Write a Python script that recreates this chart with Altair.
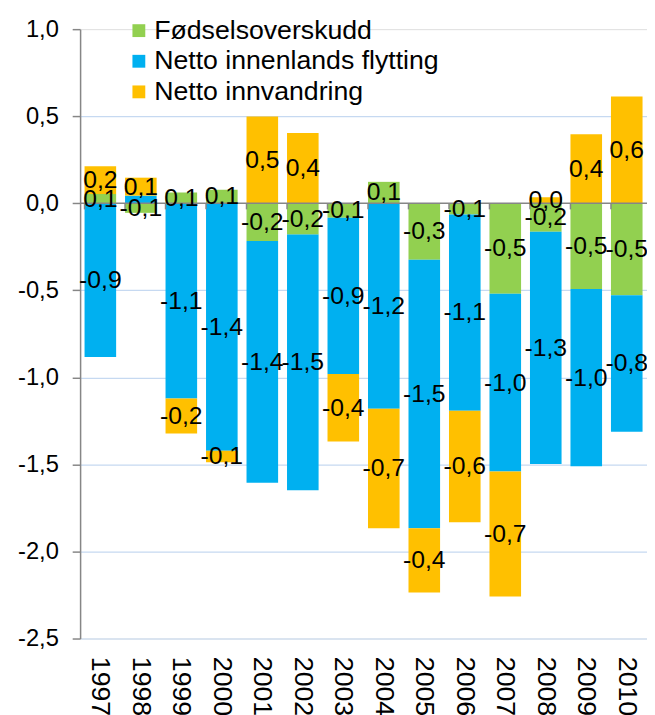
import altair as alt
import pandas as pd

years = [str(y) for y in range(1997, 2011)]
series = ["Fødselsoverskudd", "Netto innenlands flytting", "Netto innvandring"]
colors = ["#92D050", "#00B0F0", "#FFC000"]

births = [0.053, -0.055, 0.062, 0.078, -0.217, -0.180, -0.083, 0.123, -0.325, -0.064, -0.520, -0.164, -0.493, -0.529]
domestic = [-0.883, 0.044, -1.121, -1.422, -1.388, -1.469, -0.898, -1.180, -1.541, -1.127, -1.021, -1.333, -1.018, -0.783]
immigration = [0.160, 0.103, -0.202, -0.066, 0.499, 0.403, -0.388, -0.686, -0.369, -0.641, -0.717, 0.034, 0.397, 0.613]

# labels that are not shown in the original
hidden_labels = [("1998", "Netto innenlands flytting")]

y_ticks = [-2.5, -2.0, -1.5, -1.0, -0.5, 0.0, 0.5, 1.0]

rows = []
for i, yr in enumerate(years):
    for k, (s, vals) in enumerate(zip(series, [births, domestic, immigration])):
        rows.append({"year": yr, "series": s, "order": k, "value": vals[i],
                     "show": (yr, s) not in hidden_labels})
df = pd.DataFrame(rows)

FONT = "Liberation Sans"

x_scale = alt.Scale(paddingInner=0.22, paddingOuter=0.11)
x_axis = alt.Axis(title=None, domain=False, ticks=False, labelAngle=90, labelAlign="left",
                  labelBaseline="middle", labelPadding=18, labelFontSize=27, labelFont=FONT,
                  labelColor="black", grid=False)
y_scale = alt.Scale(domain=[-2.5, 1.0], nice=False, zero=False)
y_axis = alt.Axis(title=None, values=y_ticks, format=".1f", domainColor="#868686", domainWidth=1.5,
                  tickColor="#868686", tickSize=8, tickWidth=1.5, labelFontSize=24, labelFont=FONT,
                  labelColor="black", labelPadding=14,
                  gridColor={"condition": {"test": "datum.value == 1", "value": "transparent"},
                             "value": "#C6D9F1"},
                  gridWidth=1.2)

x_enc = alt.X("year:N", sort=years, scale=x_scale, axis=x_axis)

base = alt.Chart(df).transform_stack(
    stack="value", groupby=["year"], as_=["v0", "v1"], sort=[alt.SortField("order")]
).transform_calculate(mid="(datum.v0 + datum.v1) / 2")

bars = base.mark_bar().encode(
    x=x_enc,
    y=alt.Y("v0:Q", scale=y_scale, axis=y_axis),
    y2="v1:Q",
    color=alt.Color("series:N", scale=alt.Scale(domain=series, range=colors),
                    legend=alt.Legend(title=None, orient="none", legendX=46, legendY=-12,
                                      symbolType="square", symbolSize=169, symbolStrokeWidth=0,
                                      labelFontSize=27, labelFont=FONT, labelColor="black",
                                      labelOffset=2, rowPadding=3, padding=0, labelLimit=500)),
)

zero_df = pd.DataFrame({"z": [0.0]})
zero_line = alt.Chart(zero_df).mark_rule(color="#868686", strokeWidth=1.5).encode(
    y=alt.Y("z:Q", scale=y_scale, axis=y_axis)
)

tick_df = pd.DataFrame({"year": years})
zero_ticks = alt.Chart(tick_df).mark_rule(color="#868686", strokeWidth=1.5).encode(
    x=alt.X("year:N", sort=years, scale=x_scale, axis=x_axis, bandPosition=0),
    y=alt.datum(0.0),
    y2=alt.datum(-0.035),
)

labels = base.transform_filter("datum.show").mark_text(
    fontSize=25, font=FONT, color="black", align="center", baseline="middle"
).encode(
    x=x_enc,
    y=alt.Y("mid:Q", scale=y_scale, axis=y_axis),
    text=alt.Text("value:Q", format=".1f"),
)

chart = alt.layer(bars, zero_line, zero_ticks, labels).properties(
    width=574,
    height=617,
    autosize=alt.AutoSizeParams(type="none"),
    padding={"left": 73, "top": 17, "right": 0, "bottom": 73},
).configure_view(stroke=None).configure(
    locale={"number": {"decimal": ",", "thousands": " ", "grouping": [3],
                       "currency": ["", " kr"], "minus": "-"}}
)

chart.save("out.html", embed_options={"renderer": "svg", "actions": False})
